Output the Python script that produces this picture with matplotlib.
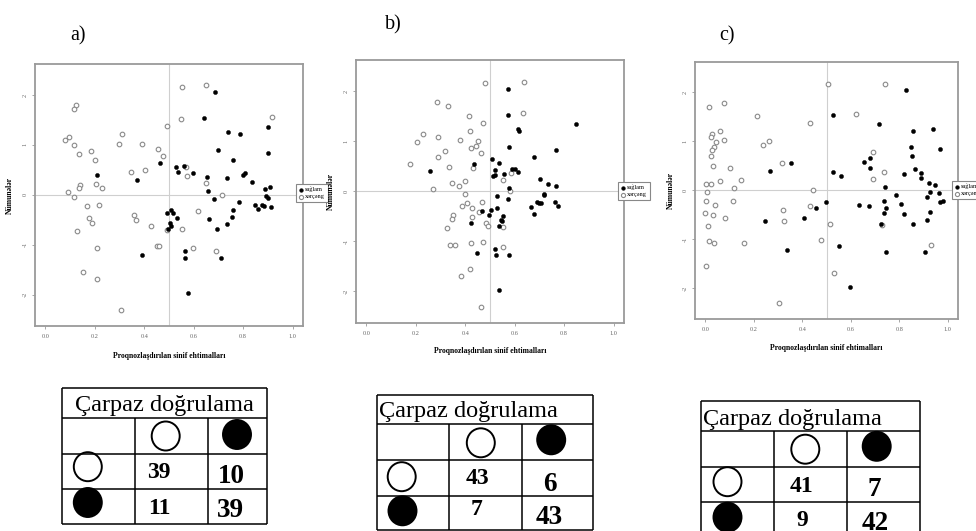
import matplotlib
matplotlib.use("Agg")
import matplotlib.pyplot as plt
from matplotlib.patches import Ellipse

# ---------------- data ----------------
xa_open = [0.551,0.648,0.124,0.116,0.549,0.915,0.491,0.309,0.081,0.094,0.116,0.299,0.389,0.456,0.183,0.137,0.477,0.199,0.569,0.574,0.403,0.348,0.650,0.140,0.135,0.205,0.229,0.092,0.116,0.714,0.170,0.217,0.617,0.358,0.367,0.178,0.189,0.426,0.552,0.491,0.127,0.453,0.458,0.596,0.210,0.691,0.154,0.209,0.305]
ya_open = [2.16,2.19,1.79,1.72,1.51,1.55,1.37,1.21,1.09,1.15,0.99,1.02,1.01,0.92,0.87,0.82,0.78,0.70,0.55,0.37,0.50,0.46,0.23,0.19,0.13,0.21,0.13,0.05,-0.04,0.00,-0.23,-0.21,-0.33,-0.40,-0.51,-0.47,-0.56,-0.63,-0.69,-0.71,-0.73,-1.03,-1.03,-1.07,-1.07,-1.12,-1.55,-1.68,-2.31]
xa_fill = [0.687,0.642,0.740,0.787,0.899,0.902,0.699,0.757,0.464,0.530,0.562,0.535,0.598,0.655,0.734,0.799,0.807,0.837,0.209,0.372,0.659,0.889,0.908,0.891,0.899,0.682,0.782,0.849,0.861,0.876,0.884,0.914,0.759,0.509,0.515,0.493,0.531,0.662,0.756,0.733,0.504,0.509,0.497,0.695,0.565,0.566,0.391,0.709,0.575]
ya_fill = [2.05,1.53,1.25,1.22,1.35,0.83,0.89,0.69,0.64,0.55,0.58,0.45,0.43,0.36,0.33,0.39,0.43,0.26,0.40,0.30,0.07,0.11,0.15,-0.03,-0.06,-0.09,-0.14,-0.21,-0.29,-0.20,-0.23,-0.24,-0.31,-0.31,-0.36,-0.37,-0.47,-0.49,-0.45,-0.59,-0.56,-0.63,-0.68,-0.69,-1.13,-1.27,-1.21,-1.26,-1.96]

xb_open = [0.480,0.636,0.286,0.332,0.632,0.414,0.470,0.418,0.230,0.291,0.203,0.377,0.451,0.442,0.423,0.319,0.465,0.288,0.178,0.335,0.431,0.584,0.554,0.397,0.345,0.373,0.268,0.580,0.397,0.469,0.405,0.388,0.428,0.454,0.349,0.347,0.427,0.482,0.491,0.553,0.328,0.338,0.358,0.422,0.470,0.552,0.419,0.382,0.462]
yb_open = [2.17,2.19,1.78,1.71,1.56,1.51,1.37,1.21,1.14,1.09,0.99,1.02,1.00,0.91,0.87,0.81,0.77,0.69,0.54,0.49,0.46,0.37,0.23,0.21,0.17,0.11,0.05,0.00,-0.05,-0.22,-0.23,-0.29,-0.34,-0.41,-0.47,-0.56,-0.51,-0.64,-0.69,-0.72,-0.73,-1.07,-1.07,-1.03,-1.02,-1.12,-1.55,-1.69,-2.31]
xb_fill = [0.573,0.572,0.614,0.618,0.847,0.766,0.577,0.676,0.507,0.536,0.435,0.257,0.519,0.591,0.600,0.612,0.555,0.519,0.514,0.703,0.734,0.766,0.578,0.719,0.719,0.528,0.574,0.689,0.762,0.697,0.705,0.776,0.664,0.530,0.503,0.469,0.497,0.677,0.554,0.543,0.549,0.536,0.422,0.522,0.526,0.576,0.449,0.536]
yb_fill = [2.05,1.53,1.25,1.21,1.35,0.83,0.89,0.69,0.64,0.57,0.55,0.40,0.43,0.44,0.44,0.38,0.35,0.33,0.30,0.25,0.14,0.11,0.07,-0.05,-0.07,-0.09,-0.15,-0.21,-0.22,-0.23,-0.23,-0.29,-0.31,-0.33,-0.38,-0.39,-0.47,-0.45,-0.49,-0.57,-0.60,-0.69,-0.63,-1.15,-1.27,-1.27,-1.23,-1.97]

xc_open = [0.505,0.742,0.077,0.014,0.213,0.620,0.434,0.060,0.029,0.022,0.044,0.079,0.265,0.239,0.037,0.027,0.690,0.023,0.317,0.034,0.101,0.735,0.693,0.149,0.063,0.120,0.003,0.023,0.445,0.007,0.003,0.113,0.042,0.434,0.322,0.001,0.031,0.083,0.325,0.514,0.730,0.012,0.016,0.037,0.158,0.478,0.932,0.003,0.530,0.305]
yc_open = [2.18,2.17,1.78,1.71,1.51,1.56,1.37,1.21,1.14,1.09,0.99,1.02,1.01,0.92,0.88,0.82,0.78,0.69,0.55,0.50,0.46,0.37,0.24,0.21,0.18,0.05,0.13,0.13,0.01,-0.04,-0.22,-0.22,-0.30,-0.33,-0.41,-0.47,-0.50,-0.56,-0.63,-0.69,-0.71,-0.73,-1.03,-1.07,-1.07,-1.02,-1.12,-1.55,-1.69,-2.31]
xc_fill = [0.828,0.526,0.717,0.857,0.940,0.850,0.966,0.852,0.678,0.653,0.354,0.268,0.527,0.679,0.863,0.889,0.818,0.560,0.889,0.923,0.949,0.742,0.927,0.785,0.962,0.913,0.738,0.499,0.634,0.675,0.808,0.966,0.981,0.456,0.747,0.736,0.818,0.926,0.245,0.406,0.724,0.855,0.915,0.553,0.339,0.747,0.906,0.597]
yc_fill = [2.05,1.53,1.35,1.22,1.25,0.89,0.84,0.69,0.65,0.58,0.55,0.40,0.38,0.45,0.43,0.35,0.33,0.30,0.25,0.15,0.11,0.07,-0.03,-0.09,-0.06,-0.14,-0.22,-0.24,-0.31,-0.32,-0.29,-0.23,-0.21,-0.37,-0.37,-0.47,-0.49,-0.44,-0.63,-0.56,-0.69,-0.69,-0.60,-1.14,-1.22,-1.27,-1.27,-1.97]

# confusion tables (rows: true open / filled, cols: predicted open / filled)
tab_a = [[39, 10], [11, 39]]
tab_b = [[43, 6], [7, 43]]
tab_c = [[41, 7], [9, 42]]

panel_labels = ["a)", "b)", "c)"]
x_label = "Proqnozlaşdırılan sinif ehtimalları"
y_label = "Nümunələr"
legend_labels = ["sağlam", "xərçəng"]
table_title = "Çarpaz doğrulama"
x_ticks = [0.0, 0.2, 0.4, 0.6, 0.8, 1.0]
y_ticks = [-2, -1, 0, 1, 2]

# ---------------- layout ----------------
W, H = 976, 531
plt.rcParams['font.family'] = ['Liberation Serif', 'DejaVu Serif']
fig = plt.figure(figsize=(W / 100, H / 100), dpi=100)
fig.patch.set_facecolor('white')


def px_box(l, t, r, b):
    return [l / W, 1 - b / H, (r - l) / W, (b - t) / H]


panels = [
    dict(box=(35, 64, 303, 326), xo=xa_open, yo=ya_open, xf=xa_fill, yf=ya_fill,
         leg=(296, 193), ylab=-0.078, xlab=-0.099),
    dict(box=(356, 60, 624, 323), xo=xb_open, yo=yb_open, xf=xb_fill, yf=yb_fill,
         leg=(618, 191), ylab=-0.078, xlab=-0.091),
    dict(box=(695, 62, 958, 319), xo=xc_open, yo=yc_open, xf=xc_fill, yf=yc_fill,
         leg=(952, 190), ylab=-0.076, xlab=-0.097),
]

for p in panels:
    ax = fig.add_axes(px_box(*p['box']))
    ax.set_xlim(-0.042, 1.042)
    ax.set_ylim(-2.63, 2.62)
    ax.axvline(0.5, color='#cfcfcf', lw=0.8, zorder=1)
    ax.axhline(0.0, color='#cfcfcf', lw=0.8, zorder=1)
    hf = ax.scatter(p['xf'], p['yf'], s=9, c='black', edgecolors='black',
                    linewidths=0.3, zorder=3, label=legend_labels[0])
    ho = ax.scatter(p['xo'], p['yo'], s=11, facecolors='white', edgecolors='#8a8a8a',
                    linewidths=0.8, zorder=2, label=legend_labels[1])
    ax.set_xticks(x_ticks)
    ax.set_xticklabels([f"{v:.1f}" for v in x_ticks])
    ax.set_yticks(y_ticks)
    ax.set_yticklabels([str(v) for v in y_ticks], rotation=90, va='center')
    ax.tick_params(length=2.5, width=0.6, color='#999999', labelsize=4.5,
                   labelcolor='#666666', pad=3)
    for s in ax.spines.values():
        s.set_color('#9a9a9a')
        s.set_linewidth(1.3)
    ax.set_xlabel(x_label, fontsize=5.5, fontweight='bold')
    ax.set_ylabel(y_label, fontsize=5.5, fontweight='bold')
    ax.xaxis.set_label_coords(0.5, p['xlab'])
    ax.yaxis.set_label_coords(p['ylab'], 0.5)
    lx, ly = p['leg']
    leg = ax.legend(handles=[hf, ho], loc='center left',
                    bbox_to_anchor=(lx / W, 1 - ly / H), bbox_transform=fig.transFigure,
                    fontsize=4.5, handlelength=0.6, handletextpad=0.4, borderpad=0.45,
                    labelspacing=0.3, borderaxespad=0, fancybox=False, framealpha=1,
                    edgecolor='#888888', markerscale=0.9)
    leg.get_frame().set_linewidth(0.8)

# ---------------- overlay: panel letters and tables ----------------
ov = fig.add_axes([0, 0, 1, 1])
ov.set_xlim(0, W)
ov.set_ylim(H, 0)
ov.set_axis_off()

letter_pos = [(78, 35.5), (393, 25), (727, 36)]
for lab, (x, y) in zip(panel_labels, letter_pos):
    ov.text(x, y, lab, fontsize=14.5, ha='center', va='center')

tables = [
    dict(vals=tab_a, rows=[388, 418, 454, 489, 524], cols=[62, 135, 208, 267],
         title=(164.5, 405, 'center'),
         circ=[(165.7, 436), (237, 434.5), (87.8, 466.7), (87.8, 502.5)],
         nums=[[(159, 478.3), (231, 483.2)], [(159.7, 514.3), (230.3, 516.9)]]),
    dict(vals=tab_b, rows=[395, 424, 460, 496, 530], cols=[377, 449, 522, 593],
         title=(379, 412, 'left'),
         circ=[(480.8, 442.8), (551.2, 439.8), (401.7, 476.7), (402.5, 510.8)],
         nums=[[(477.7, 483.7), (549.7, 491.4)], [(477, 514.7), (549, 524.1)]]),
    dict(vals=tab_c, rows=[401, 431, 467, 502, 538], cols=[701, 774, 847, 920],
         title=(703, 419.5, 'left'),
         circ=[(805.3, 449.2), (876.7, 446.3), (727.5, 481.7), (727.5, 517.2)],
         nums=[[(802, 492.5), (874, 496.1)], [(802.3, 526.3), (875.3, 529.6)]]),
]

lw_tab = 1.1
for t in tables:
    r, c = t['rows'], t['cols']
    for yy in r:
        ov.plot([c[0], c[-1]], [yy, yy], color='black', lw=lw_tab, solid_capstyle='butt')
    for xx in (c[0], c[-1]):
        ov.plot([xx, xx], [r[0], r[-1]], color='black', lw=lw_tab, solid_capstyle='butt')
    for xx in c[1:-1]:
        ov.plot([xx, xx], [r[1], r[-1]], color='black', lw=lw_tab, solid_capstyle='butt')
    tx, ty, tha = t['title']
    ov.text(tx, ty, table_title, fontsize=17.5, ha=tha, va='center')
    fills = ['white', 'black', 'white', 'black']
    for (cx, cy), fc in zip(t['circ'], fills):
        ov.add_patch(Ellipse((cx, cy), 28, 29, facecolor=fc, edgecolor='black', lw=1.4))
    for i in range(2):
        for j in range(2):
            nx, ny = t['nums'][i][j]
            ov.text(nx, ny, str(t['vals'][i][j]), fontsize=17 if j == 0 else 19.5,
                    fontweight='bold', ha='center', va='baseline')

fig.savefig('out.png', dpi=100, facecolor='white')
